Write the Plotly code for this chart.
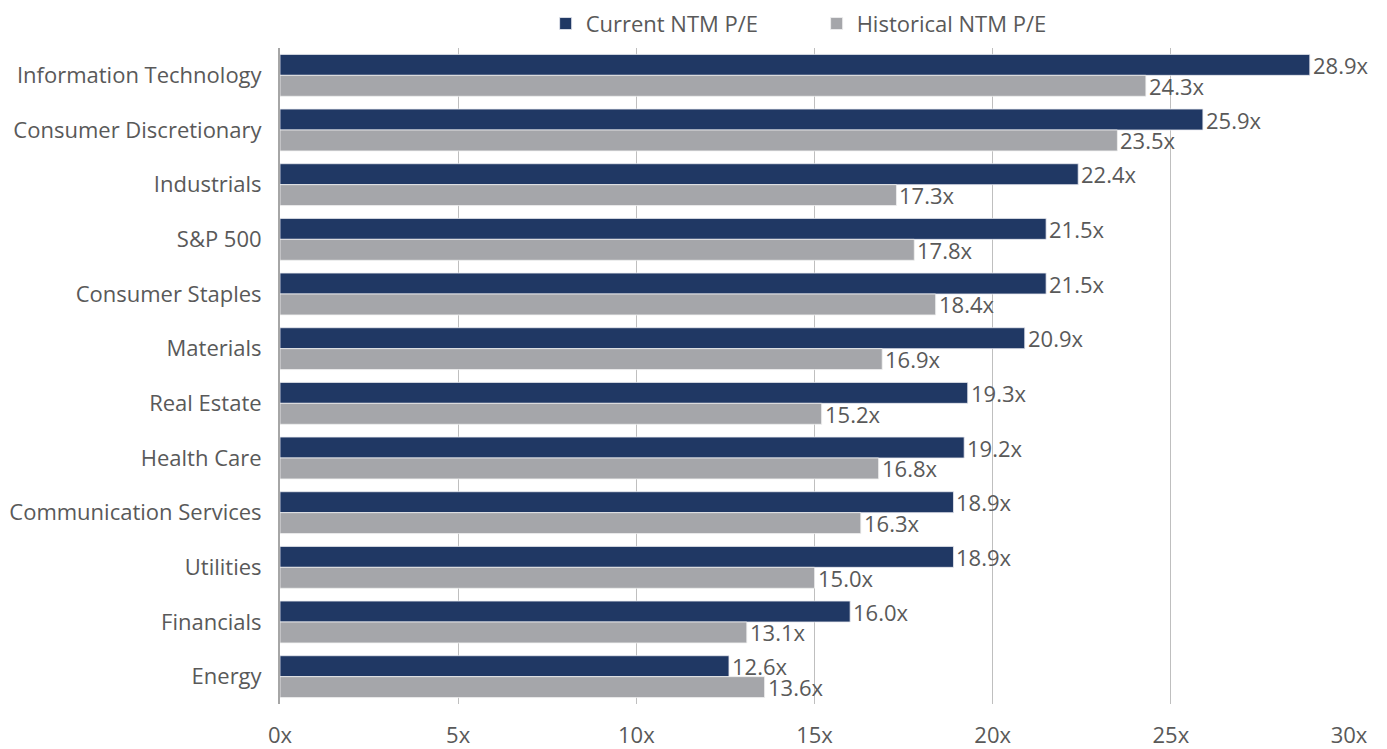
import plotly.graph_objects as go

categories = ["Information Technology", "Consumer Discretionary", "Industrials", "S&P 500",
              "Consumer Staples", "Materials", "Real Estate", "Health Care",
              "Communication Services", "Utilities", "Financials", "Energy"]
current_pe = [28.9, 25.9, 22.4, 21.5, 21.5, 20.9, 19.3, 19.2, 18.9, 18.9, 16.0, 12.6]
historical_pe = [24.3, 23.5, 17.3, 17.8, 18.4, 16.9, 15.2, 16.8, 16.3, 15.0, 13.1, 13.6]
x_ticks = [0, 5, 10, 15, 20, 25, 30]
x_tick_labels = ["0x", "5x", "10x", "15x", "20x", "25x", "30x"]
series_names = ["Current NTM P/E", "Historical NTM P/E"]

NAVY = "#203864"
GRAY = "#A5A6AA"
TEXT = "#595959"
FONT = "Open Sans"
FS = 22
BARGAP = 0.234

fig = go.Figure()
fig.add_trace(go.Bar(y=categories, x=current_pe, orientation="h", name=series_names[0],
                     marker=dict(color=NAVY, line=dict(color="#E8EAF0", width=0.8))))
fig.add_trace(go.Bar(y=categories, x=historical_pe, orientation="h", name=series_names[1],
                     marker=dict(color=GRAY, line=dict(color="#F0F0F0", width=0.8))))

off = (1 - BARGAP) / 4
for i, cat in enumerate(categories):
    for vals, sign in ((current_pe, -1), (historical_pe, 1)):
        fig.add_annotation(x=vals[i], y=i + sign * off, xref="x", yref="y",
                           text=f"{vals[i]:.1f}x", showarrow=False, xanchor="left",
                           yanchor="middle", xshift=2, borderpad=0,
                           font=dict(family=FONT, size=FS, color=TEXT))

fig.update_layout(
    width=1379, height=741,
    barmode="group", bargap=BARGAP, bargroupgap=0,
    plot_bgcolor="white", paper_bgcolor="white",
    margin=dict(l=272, r=38, t=40, b=45, autoexpand=False),
    font=dict(family=FONT, size=FS, color=TEXT),
    legend=dict(orientation="h", x=0.502, xanchor="center", y=1.037, yanchor="middle",
                font=dict(family=FONT, size=FS, color=TEXT), traceorder="normal",
                itemwidth=30, entrywidth=226, bgcolor="rgba(0,0,0,0)"),
    xaxis=dict(range=[0, 30], tickvals=x_ticks, ticktext=x_tick_labels,
               showgrid=True, gridcolor="#BFBFBF", gridwidth=1, zeroline=False,
               showline=False, ticks="", ticklabelstandoff=16,
               tickfont=dict(family=FONT, size=FS, color=TEXT)),
    yaxis=dict(autorange="reversed", showline=True, linecolor="#A6A6A6", linewidth=2,
               ticks="", ticklabelstandoff=12, showgrid=False,
               tickfont=dict(family=FONT, size=FS, color=TEXT)),
)

fig.write_html("out.html")
